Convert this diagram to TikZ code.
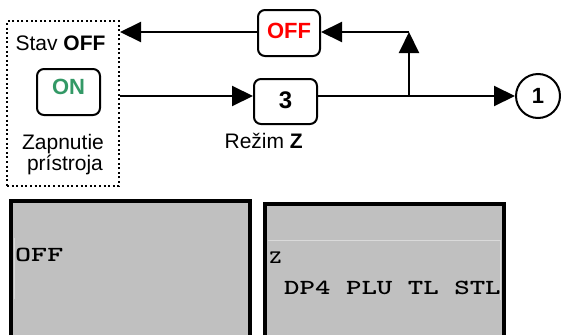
\documentclass[tikz,border=0pt]{standalone}
\usepackage{fontspec}
\usepackage{graphicx}
\setmainfont{Liberation Sans}
\usetikzlibrary{arrows.meta}
\definecolor{ongreen}{HTML}{339966}
\definecolor{panelgray}{HTML}{C0C0C0}
\definecolor{paneledge}{HTML}{DADADA}
\tikzset{
  conn/.style={line width=2pt,-{Triangle[length=21pt,width=20pt]}},
  keybox/.style={draw,line width=2pt,rounded corners=7pt,inner sep=0pt,font=\fontsize{22}{26}\selectfont\bfseries},
  lbl/.style={inner sep=0pt,anchor=base,font=\fontsize{21}{24}\selectfont},
  panel/.style={fill=panelgray},
  panelborder/.style={line width=4pt},
  faint/.style={draw=paneledge,line width=1pt},
  paneltext/.style={inner sep=0pt,anchor=base west}
}
\begin{document}
\begin{tikzpicture}[x=1pt,y=-1pt]
\useasboundingbox (0,0) rectangle (561,335);
% upper diagram
\node[draw,line width=2pt,dash pattern=on 2pt off 2.6pt,minimum width=112pt,minimum height=165pt,inner sep=0pt] (dotted) at (63,103.5) {};
\node[lbl] (stav) at (60.5,50) {Stav \textbf{OFF}};
\node[keybox,text=ongreen,minimum width=63pt,minimum height=46pt,text depth=10pt] (on) at (68.5,92) {ON};
\node[lbl] (zap1) at (63,149) {Zapnutie};
\node[lbl] (zap2) at (65,170) {prístroja};
\node[keybox,text=red,minimum width=62pt,minimum height=46pt,text depth=5pt] (offb) at (289,33) {OFF};
\node[keybox,minimum width=63pt,minimum height=45pt,text depth=3pt,font=\fontsize{24}{28}\selectfont\bfseries] (three) at (285.5,101.5) {3};
\node[lbl] (rezim) at (263.7,148) {Režim \textbf{Z}};
\node[draw,circle,line width=2pt,minimum size=44pt,inner sep=0pt,font=\fontsize{22}{26}\selectfont\bfseries] (c1) at (538,96) {1};
\coordinate (j) at (409,96);
\coordinate (t) at (409,32);
\draw[conn] (dotted.east |- j) -- (three.west |- j);
\draw[conn] (three.east |- j) -- (c1.west);
\draw[conn] (j) -- (t);
\draw[conn] (t) -- (offb.east |- t);
\draw[conn] (offb.west |- t) -- (dotted.east |- t);
% lower panels
\fill[panel] (11,201) rectangle (249.7,335);
\fill[panel] (265.3,204) rectangle (504,335);
\draw[faint] (14.5,238) -- (14.5,299);
\draw[faint] (268,240.5) -- (500.5,240.5) -- (500.5,300);
\draw[panelborder] (11,335) -- (11,201) -- (249.7,201) -- (249.7,335);
\draw[panelborder] (265.3,335) -- (265.3,204) -- (504,204) -- (504,335);
\node[paneltext] (offtxt) at (15,261) {\scalebox{1.42}[1]{\ttfamily\bfseries\fontsize{21.5}{24}\selectfont OFF}};
\node[paneltext] (ztxt) at (269,263) {\scalebox{1.25}[1]{\ttfamily\bfseries\fontsize{19}{22}\selectfont Z}};
\node[paneltext] (modes) at (284,294) {\scalebox{1.37}[1]{\ttfamily\bfseries\fontsize{21.5}{24}\selectfont DP4 PLU TL STL}};
\end{tikzpicture}
\end{document}
